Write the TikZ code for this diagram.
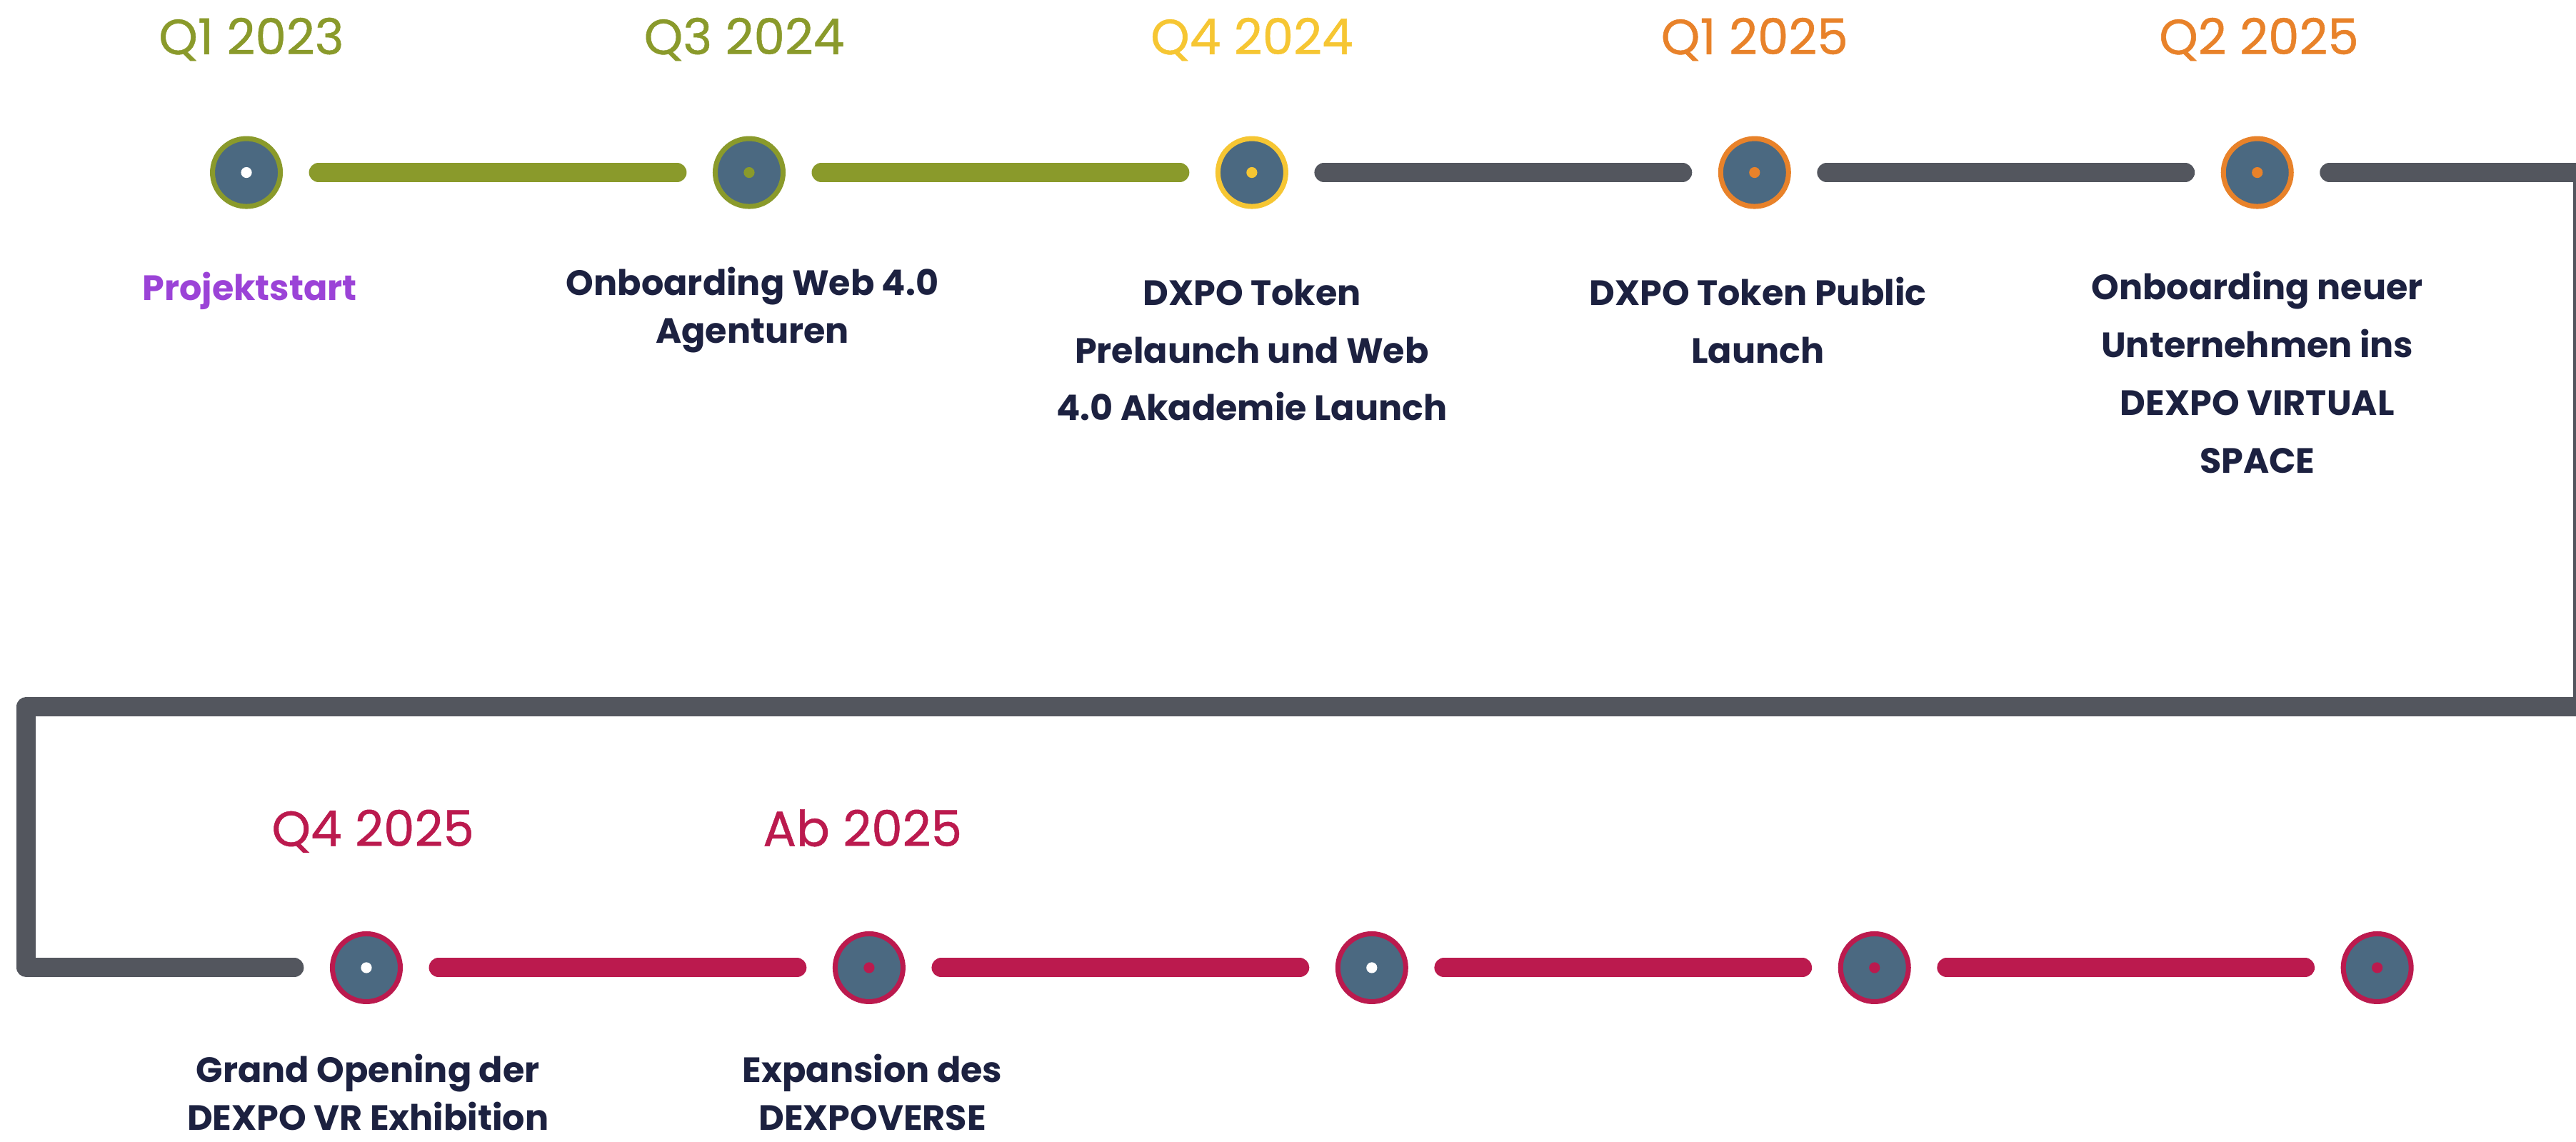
\documentclass[tikz,border=0pt]{standalone}
\usepackage{fontspec}
\setmainfont{Poppins}
\newfontfamily\quarterfont[FakeBold=0.7]{Poppins}
\usetikzlibrary{positioning}

\definecolor{tlolive}{HTML}{8A9A2B}
\definecolor{tlyellow}{HTML}{F6C633}
\definecolor{tlorange}{HTML}{E8822A}
\definecolor{tlcrimson}{HTML}{BB1A4E}
\definecolor{tlgray}{HTML}{53565E}
\definecolor{tlfill}{HTML}{4B6981}
\definecolor{tlpurple}{HTML}{9B43D7}
\definecolor{tlnavy}{HTML}{1C2140}

\tikzset{
  milestone/.style={circle, draw=#1, fill=tlfill, line width=0.07cm, minimum size=0.95cm, inner sep=0pt},
  track/.style={draw=#1, line width=0.27cm, line cap=round, line join=round, shorten <=0.5cm, shorten >=0.5cm},
  quarter/.style={anchor=base, inner sep=0pt, text=#1, font=\quarterfont\fontsize{19.7}{24}\selectfont},
  event/.style={anchor=base, inner sep=0pt, align=center, text=tlnavy, font=\bfseries\fontsize{14}{19}\selectfont},
  eventwide/.style={event, font=\bfseries\fontsize{14}{23}\selectfont},
}

\begin{document}
\begin{tikzpicture}[x=0.023cm, y=-0.023cm]
\useasboundingbox (0,0) rectangle (1568,695);
\clip (0,0) rectangle (1568,695);

% milestones
\foreach \i/\x/\col in {1/150/tlolive, 2/456/tlolive, 3/762/tlyellow, 4/1068/tlorange, 5/1374/tlorange}
  \node[milestone=\col] (t\i) at (\x,105) {};
\foreach \i/\x in {1/223, 2/529, 3/835, 4/1141, 5/1447}
  \node[milestone=tlcrimson] (b\i) at (\x,589) {};

% center dots
\foreach \n/\col in {t1/white, t2/tlolive, t3/tlyellow, t4/tlorange, t5/tlorange,
                     b1/white, b2/tlcrimson, b3/white, b4/tlcrimson, b5/tlcrimson}
  \fill[\col] (\n) circle (0.076cm);

% tracks
\draw[track=tlolive] (t1) -- (t2);
\draw[track=tlolive] (t2) -- (t3);
\draw[track=tlgray] (t3) -- (t4);
\draw[track=tlgray] (t4) -- (t5);
\coordinate (turnA) at (1572,105);
\coordinate (turnB) at (1572,430);
\coordinate (turnC) at (16,430);
\coordinate (turnD) at (16,589);
\draw[track=tlgray] (t5) -- (turnA) -- (turnB) -- (turnC) -- (turnD) -- (b1);
\foreach \i [evaluate=\i as \j using int(\i+1)] in {1,...,4}
  \draw[track=tlcrimson] (b\i) -- (b\j);

% quarters
\node[quarter=tlolive] (q1) at (153,33) {Q1 2023};
\node[quarter=tlolive] (q2) at (453,33) {Q3 2024};
\node[quarter=tlyellow] (q3) at (762,33) {Q4 2024};
\node[quarter=tlorange] (q4) at (1068,33) {Q1 2025};
\node[quarter=tlorange] (q5) at (1375,33) {Q2 2025};
\node[quarter=tlcrimson] (q6) at (227,515) {Q4 2025};
\node[quarter=tlcrimson] (q7) at (525,515) {Ab 2025};

% events (anchored at the last line)
\node[event, text=tlpurple] (e1) at (152,183) {Projektstart};
\node[event] (e2) at (458,209) {Onboarding Web 4.0\\Agenturen};
\node[eventwide] (e3) at (762,256) {DXPO Token\\Prelaunch und Web\\4.0 Akademie Launch};
\node[eventwide] (e4) at (1070,221) {DXPO Token Public\\Launch};
\node[eventwide] (e5) at (1374,288) {Onboarding neuer\\Unternehmen ins\\DEXPO VIRTUAL\\SPACE};
\node[event] (e6) at (224,688) {Grand Opening der\\DEXPO VR Exhibition};
\node[event] (e7) at (531,688) {Expansion des\\DEXPOVERSE};
\end{tikzpicture}
\end{document}
